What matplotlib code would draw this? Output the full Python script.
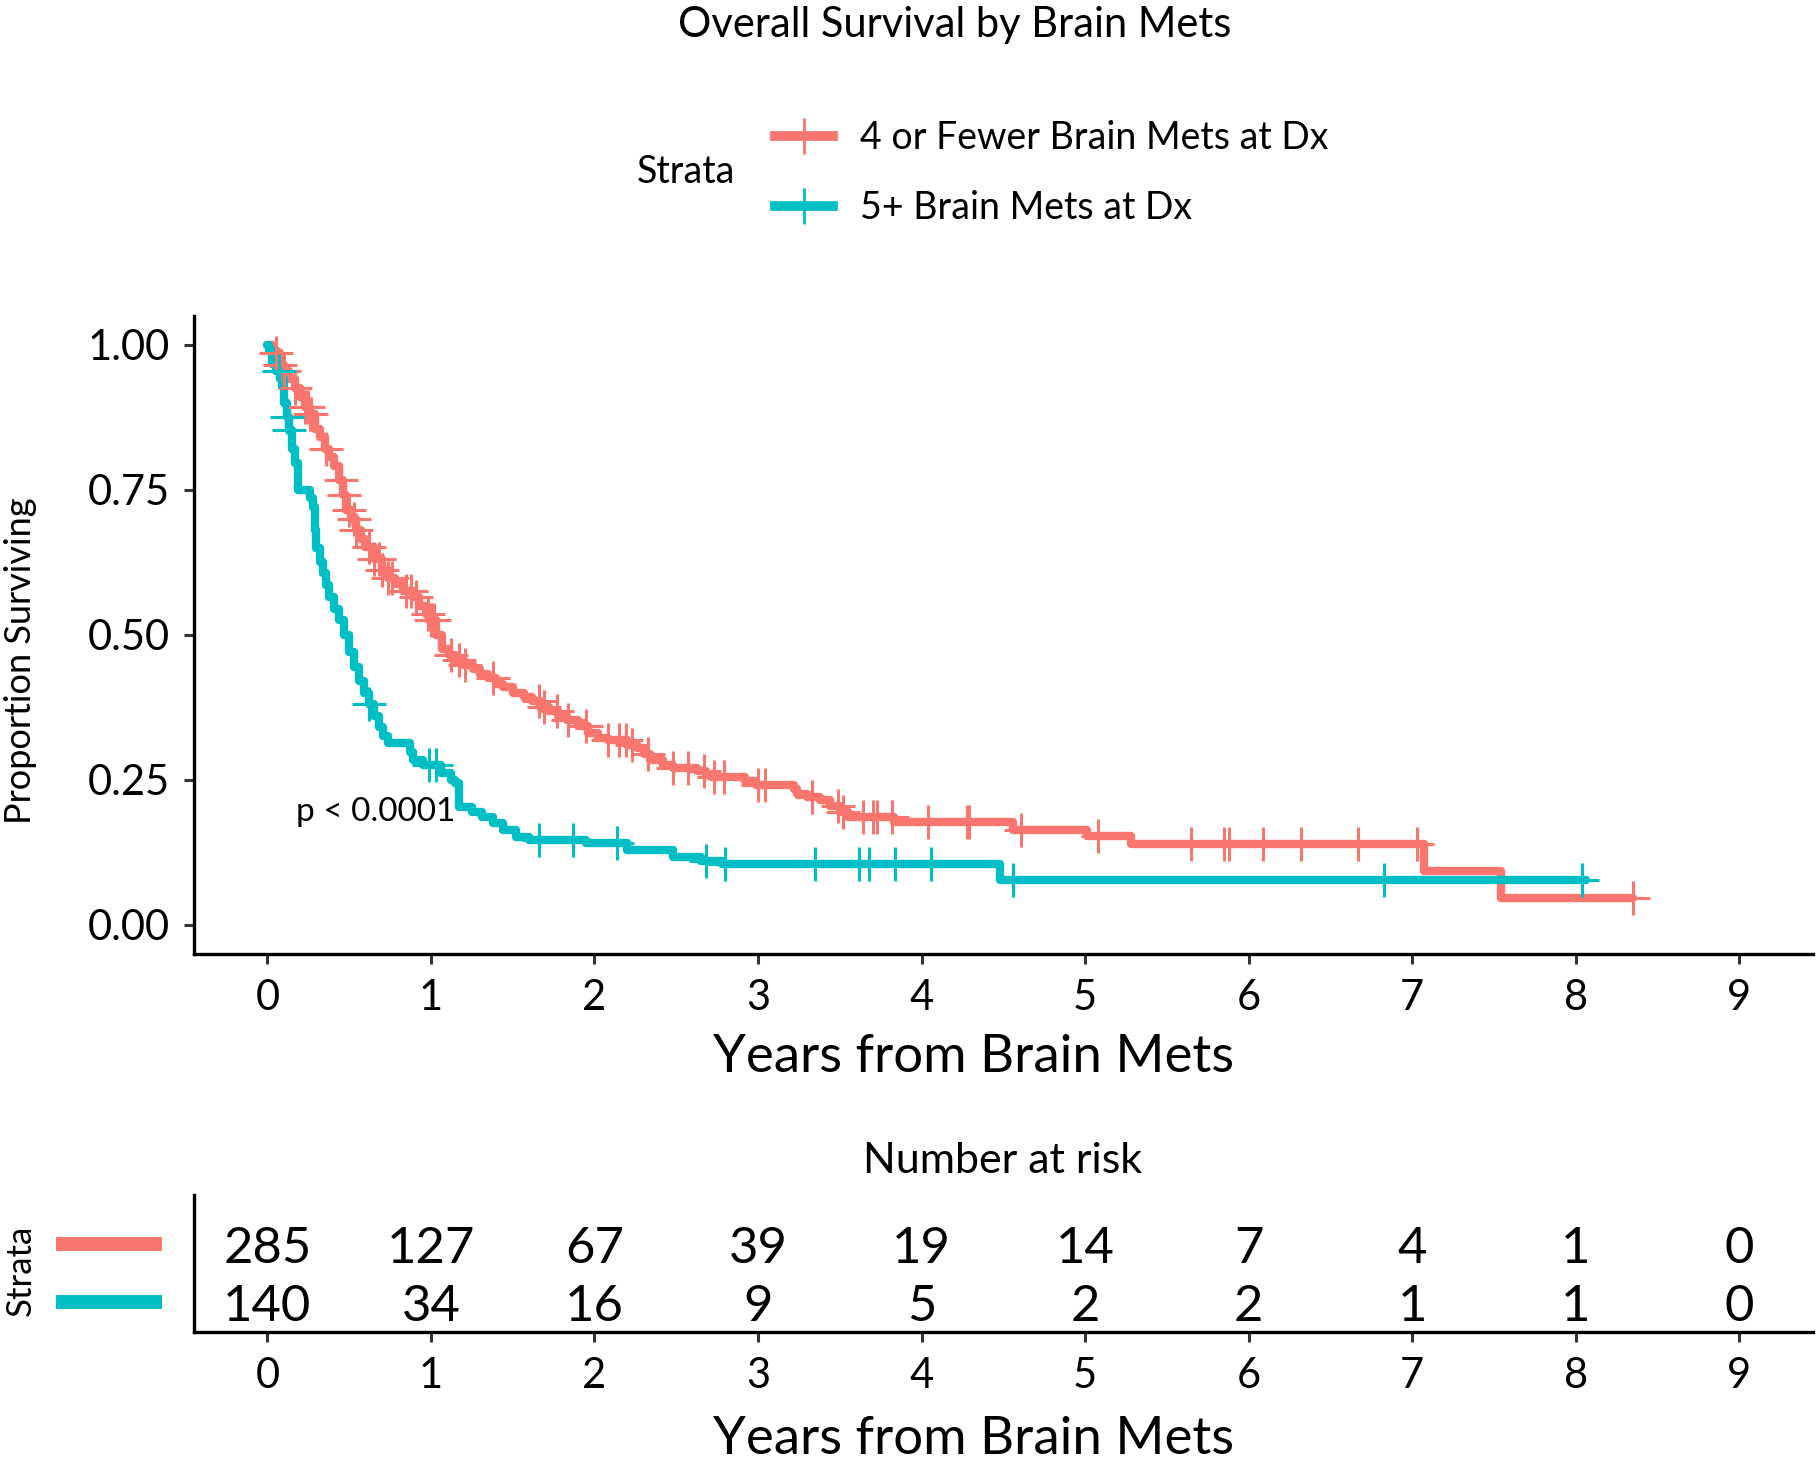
import numpy as np
import matplotlib.pyplot as plt
from matplotlib.lines import Line2D
import matplotlib.transforms as mtransforms

plt.rcParams['font.family'] = ['Lato', 'DejaVu Sans']

RED = '#F8766D'
TEAL = '#00BFC4'

# Kaplan-Meier steps: (time in years, survival after step)
red_t = [0, 0.03, 0.05, 0.08, 0.10, 0.13, 0.17, 0.20, 0.23, 0.26, 0.29, 0.32,
         0.35, 0.38, 0.41, 0.44, 0.46, 0.48, 0.51, 0.54, 0.57, 0.60, 0.65,
         0.70, 0.74, 0.78, 0.83, 0.89, 0.93, 0.97, 0.99, 1.03, 1.07, 1.11,
         1.15, 1.20, 1.26, 1.30, 1.35, 1.40, 1.44, 1.50, 1.57, 1.62, 1.67,
         1.72, 1.78, 1.83, 1.90, 1.96, 2.02, 2.08, 2.20, 2.26, 2.30, 2.34,
         2.42, 2.48, 2.63, 2.68, 2.71, 2.92, 2.99, 3.22, 3.24, 3.30, 3.38,
         3.44, 3.50, 3.55, 3.83, 4.56, 5.01, 5.28, 7.07, 7.54, 8.35]
red_s = [1.0, 0.99, 0.985, 0.965, 0.955, 0.94, 0.925, 0.91, 0.893, 0.88,
         0.855, 0.84, 0.82, 0.807, 0.79, 0.767, 0.74, 0.715, 0.70, 0.68,
         0.665, 0.651, 0.63, 0.611, 0.598, 0.588, 0.575, 0.565, 0.55, 0.535,
         0.525, 0.50, 0.475, 0.465, 0.456, 0.447, 0.44, 0.432, 0.425, 0.415,
         0.41, 0.40, 0.393, 0.385, 0.376, 0.368, 0.36, 0.353, 0.342, 0.33,
         0.322, 0.318, 0.31, 0.305, 0.295, 0.284, 0.276, 0.27, 0.265, 0.258,
         0.255, 0.248, 0.241, 0.234, 0.226, 0.22, 0.215, 0.205, 0.195, 0.186,
         0.177, 0.163, 0.153, 0.139, 0.092, 0.046, 0.046]

teal_t = [0, 0.01, 0.03, 0.05, 0.08, 0.10, 0.12, 0.13, 0.15, 0.17, 0.19,
          0.26, 0.28, 0.29, 0.30, 0.32, 0.34, 0.36, 0.38, 0.41, 0.44, 0.47,
          0.50, 0.53, 0.56, 0.59, 0.62, 0.65, 0.68, 0.71, 0.74, 0.87, 0.89,
          0.95, 1.06, 1.12, 1.15, 1.17, 1.25, 1.31, 1.38, 1.44, 1.52, 1.60,
          1.95, 2.20, 2.48, 2.65, 2.78, 4.48, 8.06]
teal_s = [1.0, 0.99, 0.966, 0.955, 0.94, 0.90, 0.875, 0.853, 0.82, 0.796,
          0.749, 0.735, 0.72, 0.68, 0.65, 0.625, 0.606, 0.585, 0.565, 0.545,
          0.525, 0.50, 0.47, 0.445, 0.42, 0.40, 0.38, 0.36, 0.341, 0.325,
          0.313, 0.298, 0.284, 0.275, 0.262, 0.25, 0.244, 0.203, 0.195, 0.186,
          0.175, 0.163, 0.152, 0.146, 0.14, 0.128, 0.117, 0.11, 0.104, 0.077,
          0.077]

# censoring times
red_cens = [0.05, 0.08, 0.10, 0.17, 0.23, 0.25, 0.26, 0.27, 0.36, 0.45, 0.47,
            0.50, 0.53, 0.54, 0.62, 0.65, 0.68, 0.70, 0.74, 0.76, 0.85, 0.88,
            0.91, 0.98, 1.00, 1.02, 1.12, 1.17, 1.21, 1.38, 1.66, 1.69, 1.77,
            1.84, 1.95, 2.08, 2.15, 2.19, 2.23, 2.33, 2.48, 2.57, 2.67, 2.73,
            2.79, 3.00, 3.04, 3.33, 3.49, 3.52, 3.64, 3.70, 3.73, 3.82, 4.04,
            4.28, 4.29, 4.61, 5.08, 5.65, 5.85, 5.88, 6.09, 6.32, 6.67, 7.03,
            8.35]
teal_cens = [0.07, 0.12, 0.13, 0.62, 0.99, 1.03, 1.66, 1.87, 2.14, 2.68, 2.80,
             3.35, 3.62, 3.68, 3.84, 4.06, 4.56, 6.83, 8.04]

# number at risk
risk_times = [0, 1, 2, 3, 4, 5, 6, 7, 8, 9]
red_risk = [285, 127, 67, 39, 19, 14, 7, 4, 1, 0]
teal_risk = [140, 34, 16, 9, 5, 2, 2, 1, 1, 0]

red_label = '4 or Fewer Brain Mets at Dx'
teal_label = '5+ Brain Mets at Dx'


def step_at(times, surv, t):
    idx = np.searchsorted(times, t, side='right') - 1
    return np.asarray(surv)[idx]


W, H = 1819, 1460
fig = plt.figure(figsize=(W / 100, H / 100), dpi=100)

ax = fig.add_axes([0.1065, 0.3468, 0.8902, 0.4370])
ax2 = fig.add_axes([0.1065, 0.0877, 0.8902, 0.0938])

for a in (ax, ax2):
    a.spines['top'].set_visible(False)
    a.spines['right'].set_visible(False)
    a.spines['left'].set_linewidth(2.4)
    a.spines['bottom'].set_linewidth(2.4)
    a.tick_params(axis='both', colors='#333333', width=2.2, length=7,
                  labelcolor='black', labelsize=30)
    a.set_xlim(-0.45, 9.45)
    a.set_xticks(range(10))

# survival curves
ax.step(red_t, red_s, where='post', color=RED, lw=6,
        solid_joinstyle='round', solid_capstyle='round')
ax.step(teal_t, teal_s, where='post', color=TEAL, lw=6,
        solid_joinstyle='round', solid_capstyle='round')
ax.plot(red_cens, step_at(red_t, red_s, red_cens), '+', color=RED,
        ms=24, mew=2.2, ls='none')
ax.plot(teal_cens, step_at(teal_t, teal_s, teal_cens), '+', color=TEAL,
        ms=24, mew=2.2, ls='none')

ax.set_ylim(-0.05, 1.05)
ax.set_yticks([0, 0.25, 0.5, 0.75, 1.0])
ax.set_yticklabels(['0.00', '0.25', '0.50', '0.75', '1.00'])
ax.tick_params(axis='x', pad=11)
ax.tick_params(axis='y', pad=10)

ax.text(0.177, 0.194, 'p < 0.0001', ha='left', va='center', fontsize=24)

# risk table
num_trans = mtransforms.offset_copy(ax2.transData, fig=fig, y=-5,
                                    units='dots')
for row, counts in ((2, red_risk), (1, teal_risk)):
    for t, n in zip(risk_times, counts):
        ax2.text(t, row, str(n), ha='center', va='center', fontsize=36.5,
                 transform=num_trans)
ax2.set_ylim(0.48, 2.84)
ax2.set_yticks([])
ax2.tick_params(axis='x', pad=11)
trans = mtransforms.blended_transform_factory(ax2.transAxes, ax2.transData)
for row, col in ((2, RED), (1, TEAL)):
    ax2.plot([-0.085, -0.0196], [row, row], color=col, lw=10,
             solid_capstyle='butt', transform=trans, clip_on=False)

# labels and title
fig.text(955 / W, 1 - 25 / H, 'Overall Survival by Brain Mets',
         ha='center', va='center', fontsize=30)
fig.text(21 / W, 1 - 661 / H, 'Proportion Surviving', rotation=90,
         ha='center', va='center', fontsize=26)
fig.text(973 / W, 1 - 1058 / H, 'Years from Brain Mets',
         ha='center', va='center', fontsize=38)
fig.text(1003 / W, 1 - 1161 / H, 'Number at risk',
         ha='center', va='center', fontsize=31)
fig.text(21 / W, 1 - 1270 / H, 'Strata', rotation=90,
         ha='center', va='center', fontsize=25)
fig.text(973 / W, 1 - 1440 / H, 'Years from Brain Mets',
         ha='center', va='center', fontsize=38)

# legend
fig.text(686 / W, 1 - 172 / H, 'Strata', ha='center', va='center',
         fontsize=27)
handles = [Line2D([], [], color=RED, lw=7, marker='+', ms=26, mew=2),
           Line2D([], [], color=TEAL, lw=7, marker='+', ms=26, mew=2)]
fig.legend(handles, [red_label, teal_label], loc='center left',
           bbox_to_anchor=(775 / W, 1 - 173 / H), frameon=False,
           fontsize=27, handlelength=1.55, handletextpad=0.72,
           labelspacing=0.92, borderpad=0, borderaxespad=0, numpoints=1)

fig.savefig('out.png', dpi=100)
